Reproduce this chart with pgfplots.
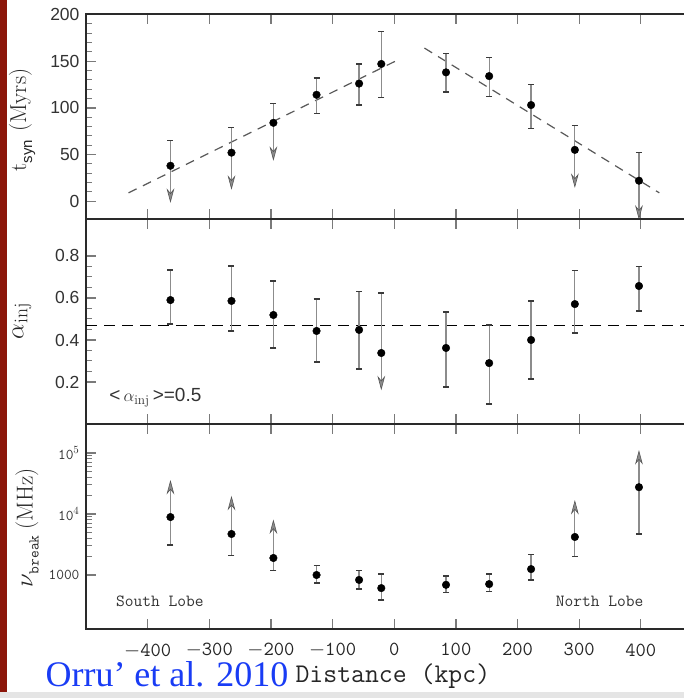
\documentclass[border=0pt]{standalone}
\usepackage{fontspec}
\setsansfont{Liberation Sans}
\newfontfamily\orrufont{Liberation Serif}
\usepackage{pgfplots}
\usepackage{pgfplotstable}
\pgfplotsset{compat=1.18}

\definecolor{framec}{HTML}{2A2A2A}
\definecolor{tickc}{HTML}{7A7A7A}
\definecolor{barc}{HTML}{8C8C8C}
\definecolor{capc}{HTML}{3A3A3A}
\definecolor{arrc}{HTML}{555555}
\definecolor{orru}{RGB}{25,60,245}
\definecolor{slide}{RGB}{140,22,10}

% arrow head for limits (tip at the end of the bar; pgfplots turns it for the plus end)
\pgfdeclareplotmark{arrdn}{%
  \pgfpathmoveto{\pgfqpoint{0pt}{0pt}}%
  \pgfpathlineto{\pgfqpoint{-3.2pt}{12pt}}%
  \pgfpathlineto{\pgfqpoint{0pt}{8pt}}%
  \pgfpathlineto{\pgfqpoint{3.2pt}{12pt}}%
  \pgfpathclose\pgfusepathqfillstroke}

% t_syn
\pgfplotstableread{
x y lo hi
-126 114 94 132
-57 126 103 147
-21 147 111 182
84 138 117 158
154 134 112 154
222 103 78 125
}\tsynboth
\pgfplotstableread{
x y lo hi
-363 38 6 65
-264 52 20 79
-196 84 51 105
293 55 22 81
397 22 -12 52
}\tsynlim
% alpha_inj
\pgfplotstableread{
x y lo hi
-363 0.590 0.476 0.733
-264 0.586 0.443 0.752
-196 0.519 0.362 0.681
-126 0.443 0.295 0.595
-57 0.448 0.262 0.629
84 0.362 0.176 0.533
154 0.290 0.095 0.471
222 0.400 0.214 0.586
293 0.571 0.433 0.729
397 0.657 0.538 0.748
}\alphaboth
\pgfplotstableread{
x y lo hi
-21 0.338 0.195 0.624
}\alphalim
% nu_break
\pgfplotstableread{
x y lo hi
-126 1000 740 1450
-57 830 590 1200
-21 610 390 1040
84 690 520 960
154 710 530 1040
222 1250 830 2200
}\nuboth
\pgfplotstableread{
x y lo hi
-363 8900 3100 27500
-264 4700 2100 15100
-196 1900 1170 6200
293 4200 2000 12900
397 27500 4700 85000
}\nulim

\pgfplotsset{
  panel/.style={
    scale only axis, width=610.3pt, height=205pt,
    xmin=-500, xmax=490,
    xtick={-400,-300,...,400},
    tick align=inside,
    major tick length=10pt, minor tick length=6pt,
    axis line style={draw=framec, line width=1.3pt},
    every major tick/.append style={draw=tickc, line width=1.3pt},
    every minor tick/.append style={draw=tickc, line width=1pt},
    yticklabel style={font=\sffamily\fontsize{17.5}{17.5}\selectfont, text=black!80, xshift=-3pt},
    /pgf/number format/assume math mode=true,
    anchor=south west,
  },
  errtab/.style={table/x=x, table/y=y,
    table/y error plus expr=\thisrow{hi}-\thisrow{y},
    table/y error minus expr=\thisrow{y}-\thisrow{lo}},
  pts/.style={only marks, mark=*, mark size=3.8pt, mark options={draw=black, fill=black},
    table/x=x, table/y=y},
  errboth/.style={errtab, only marks, mark=none,
    error bars/.cd, y dir=both, y explicit,
    error bar style={draw=barc, line width=1.2pt},
    error mark options={rotate=90, draw=capc, line width=1.2pt, mark size=3pt}},
  errcap/.style={errtab, only marks, mark=none,
    error bars/.cd, y dir=#1, y explicit,
    error bar style={draw=barc, line width=1.2pt},
    error mark options={rotate=90, draw=capc, line width=1.2pt, mark size=3pt}},
  errarr/.style={errtab, only marks, mark=none,
    error bars/.cd, y dir=#1, y explicit,
    error bar style={draw=barc, line width=1.2pt},
    error mark=arrdn,
    error mark options={rotate=90, draw=arrc, fill=barc, line width=0.6pt}},
}

\begin{document}
\begin{tikzpicture}
\fill[white] (0,0) rectangle (684pt,698pt);
\path[use as bounding box, clip] (0,0) rectangle (684pt,698pt);
\fill[slide] (0,6pt) rectangle (7pt,698pt);
\fill[black!10] (0,0) rectangle (684pt,6pt);

% top panel: t_syn
\begin{axis}[panel, at={(86pt,479pt)},
  ymin=-19, ymax=200.5, ytick={0,50,...,200}, minor y tick num=4,
  xticklabels={}]
\addplot[dash pattern=on 9pt off 7pt, draw=black!65, line width=1.2pt] coordinates {(-431,9) (8,152)};
\addplot[dash pattern=on 9pt off 7pt, draw=black!65, line width=1.2pt] coordinates {(49,164) (430,9)};
\addplot[errboth] table {\tsynboth};
\addplot[errcap=plus] table {\tsynlim};
\addplot[errarr=minus] table {\tsynlim};
\addplot[pts] table {\tsynboth};
\addplot[pts] table {\tsynlim};
\end{axis}

% middle panel: alpha_inj
\begin{axis}[panel, at={(86pt,274pt)},
  ymin=0, ymax=0.976, ytick={0.2,0.4,0.6,0.8}, minor y tick num=3,
  xticklabels={}]
\addplot[dash pattern=on 11pt off 7pt, draw=black, line width=1.3pt] coordinates {(-500,0.47) (490,0.47)};
\addplot[errboth] table {\alphaboth};
\addplot[errcap=plus] table {\alphalim};
\addplot[errarr=minus] table {\alphalim};
\addplot[pts] table {\alphaboth};
\addplot[pts] table {\alphalim};
\node[anchor=west, font=\sffamily\fontsize{19}{19}\selectfont, text=black!80] at (axis cs:-468,0.124) {<\,$\displaystyle\alpha_{\mathrm{inj}}$\,>=0.5};
\end{axis}

% bottom panel: nu_break
\begin{axis}[panel, at={(86pt,69pt)},
  ymode=log, ymin=130.3, ymax=298500,
  ytick={1000,10000,100000}, yticklabels={1000,10$^4$,10$^5$},
  yticklabel style={font=\ttfamily\fontsize{15}{15}\selectfont, text=black!80, xshift=0pt},
  xticklabels={$-$400,$-$300,$-$200,$-$100,0,100,200,300,400},
  xticklabel style={font=\ttfamily\fontsize{20}{20}\selectfont, text=black!85, yshift=-11pt}]
\addplot[errboth] table {\nuboth};
\addplot[errcap=minus] table {\nulim};
\addplot[errarr=plus] table {\nulim};
\addplot[pts] table {\nuboth};
\addplot[pts] table {\nulim};
\node[anchor=west, font=\ttfamily\fontsize{17}{17}\selectfont, text=black!80] at (axis cs:-457,375) {South Lobe};
\node[anchor=east, font=\ttfamily\fontsize{17}{17}\selectfont, text=black!80] at (axis cs:410,375) {North Lobe};
\end{axis}

% axis titles
\node[rotate=90, font=\fontsize{23}{23}\selectfont, text=black!85] at (22pt,578pt) {t\raisebox{-6pt}{\fontsize{15}{15}\selectfont\sffamily syn}\hspace{8pt}(Myrs)};
\node[rotate=90, font=\fontsize{28}{28}\selectfont, text=black!85] at (22pt,377pt) {$\alpha_{\mathrm{inj}}$};
\node[rotate=90, font=\fontsize{23}{23}\selectfont, text=black!85] at (27pt,170pt) {$\nu$\raisebox{-6pt}{\fontsize{15}{15}\selectfont\ttfamily break}\hspace{6pt}(MHz)};
\node[anchor=base west, text=orru, font=\orrufont\fontsize{36}{36}\selectfont] at (42pt,11pt) {Orru’ et al. 2010};
\node[anchor=base west, font=\ttfamily\fontsize{27}{27}\selectfont, text=black!85] at (292pt,16pt) {Distance (kpc)};
\end{tikzpicture}
\end{document}
